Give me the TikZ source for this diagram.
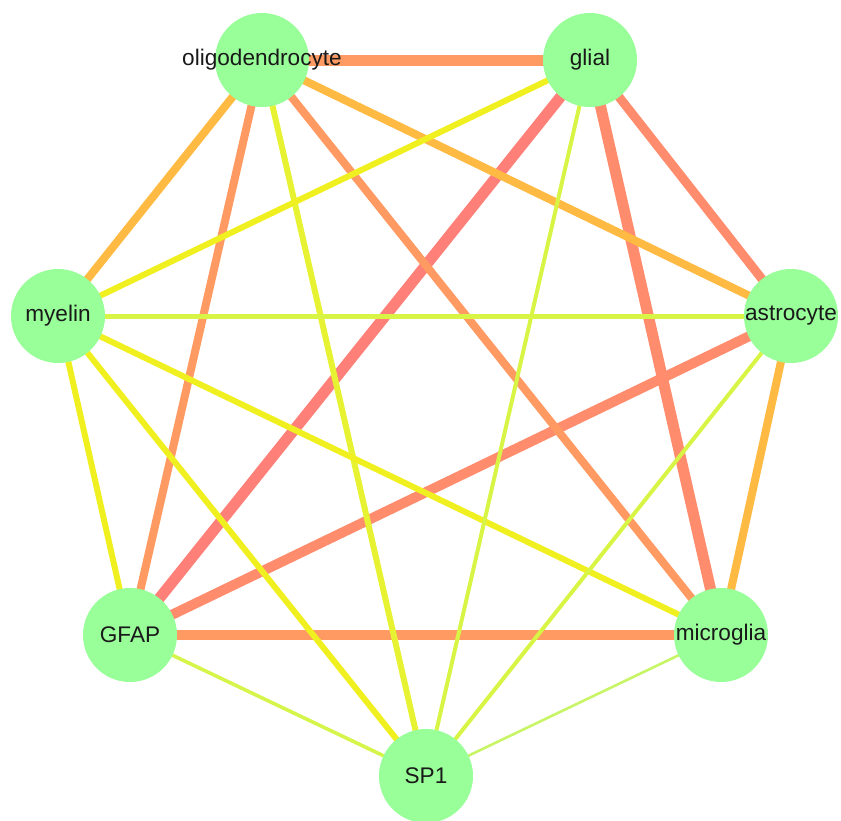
\documentclass[tikz,border=0pt]{standalone}
\usepackage{fontspec}
\setmainfont{Liberation Sans}
\usepackage{xcolor}
\usepackage{tikz}
\usetikzlibrary{positioning,calc,backgrounds}
\definecolor{nodegreen}{HTML}{99FF99}
\definecolor{eA}{HTML}{FF8078}
\definecolor{eB}{HTML}{FF8C6C}
\definecolor{eC}{HTML}{FF9A62}
\definecolor{eD}{HTML}{FFBA44}
\definecolor{eE}{HTML}{F0F020}
\definecolor{eF}{HTML}{E6F232}
\definecolor{eG}{HTML}{D8F545}
\definecolor{eH}{HTML}{C8F566}
\tikzstyle{gene}= [circle, fill=nodegreen, inner sep=0pt, minimum size=47pt]
\tikzstyle{glab}= [font=\fontsize{11.3}{13}\selectfont, text=black!90]
\tikzstyle{link}= [line cap=butt]

\begin{document}
\begin{tikzpicture}[x=0.5pt,y=-0.5pt]
					\useasboundingbox (0,0) rectangle (841,820);
					\node[gene] at (262,60) [label={[glab]center:oligodendrocyte}] (oligo) {};
					\node[gene] at (590,60) [label={[glab]center:glial}] (glial) {};
					\node[gene] at (58,316) [label={[glab]center:myelin}] (myelin) {};
					\node[gene] at (791,316) [label={[glab]center:astrocyte}] (astro) {};
					\node[gene] at (130,635) [label={[glab]center:GFAP}] (gfap) {};
					\node[gene] at (721,635) [label={[glab]center:microglia}] (micro) {};
					\node[gene] at (426,776) [label={[glab]center:SP1}] (sp1) {};
					\begin{pgfonlayer}{background}
					% strong links
					\draw[link, eC, line width=5.5pt] (oligo.center) -- (glial.center);
					\draw[link, eA, line width=5.5pt] (glial.center) -- (gfap.center);
					\draw[link, eB, line width=5.5pt] (glial.center) -- (micro.center);
					\draw[link, eB, line width=4.5pt] (glial.center) -- (astro.center);
					\draw[link, eB, line width=5pt] (astro.center) -- (gfap.center);
					\draw[link, eC, line width=5pt] (gfap.center) -- (micro.center);
					% medium links
					\draw[link, eD, line width=4pt] (oligo.center) -- (myelin.center);
					\draw[link, eC, line width=4pt] (oligo.center) -- (gfap.center);
					\draw[link, eC, line width=4pt] (oligo.center) -- (micro.center);
					\draw[link, eD, line width=4pt] (oligo.center) -- (astro.center);
					\draw[link, eD, line width=4pt] (astro.center) -- (micro.center);
					% weak links
					\draw[link, eF, line width=3pt] (oligo.center) -- (sp1.center);
					\draw[link, eE, line width=3pt] (glial.center) -- (myelin.center);
					\draw[link, eE, line width=3pt] (myelin.center) -- (gfap.center);
					\draw[link, eE, line width=3pt] (myelin.center) -- (sp1.center);
					\draw[link, eE, line width=3pt] (myelin.center) -- (micro.center);
					\draw[link, eG, line width=2.5pt] (myelin.center) -- (astro.center);
					\draw[link, eG, line width=2pt] (glial.center) -- (sp1.center);
					\draw[link, eG, line width=2pt] (astro.center) -- (sp1.center);
					\draw[link, eG!80!eH, line width=1.8pt] (gfap.center) -- (sp1.center);
					\draw[link, eH, line width=1.3pt] (micro.center) -- (sp1.center);
					\end{pgfonlayer}
				\end{tikzpicture}
\end{document}
